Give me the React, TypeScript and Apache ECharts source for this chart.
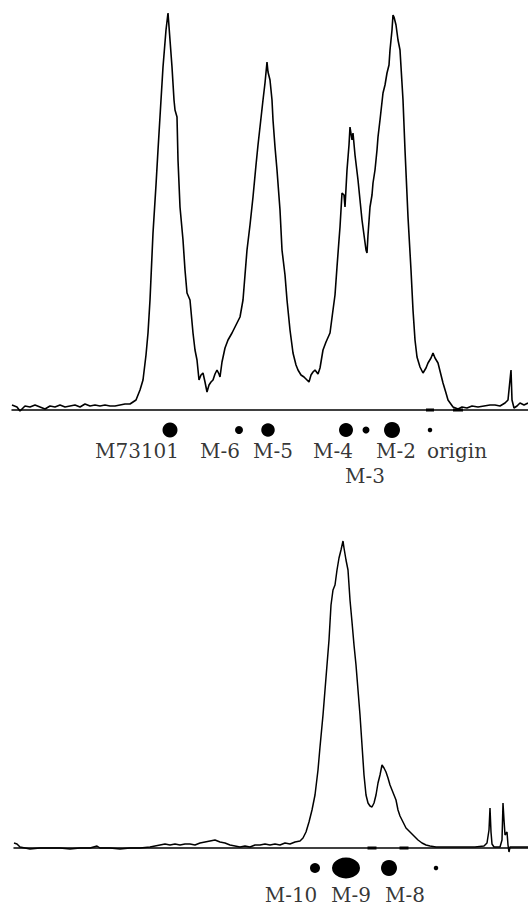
import React, { useEffect, useRef } from "react";
import * as echarts from "echarts";

// ---- Upper densitogram (position along plate, signal height above baseline)
const topPos = [12,17,20,25,30,35,40,45,50,55,60,65,70,75,80,85,90,95,100,105,110,115,120,125,130,133,
136,140,143,146,148,150,153,156,158,161,163,166,168,170,172,174,175,177,178,180,183,185,187,190,193,195,197,199,201,203,205,207,209,211,213,215,217,219,220,222,225,228,232,236,240,243,245,247,250,253,256,258,260,263,265,267,268,270,272,273,275,277,280,282,285,287,290,293,296,298,301,304,307,309,311,313,315,318,320,323,326,330,333,335,337,339,340,342,344,345,347,349,350,352,353,355,358,360,362,364,366,367,368,370,372,373,375,377,378,380,383,385,387,389,390,392,393,394,396,398,400,403,405,408,411,413,415,417,420,423,426,428,431,433,435,438,441,443,446,448,453,458,462,467,472,478,484,490,495,500,505,508,510,511,512,514,517,520,524,528];
const topSignal = [5,3,-1,4,3,5,3,1,4,3,5,3,4,5,3,6,4,5,4,5,4,4,5,6,6,8,
10,20,30,55,77,110,177,225,260,310,343,380,397,370,343,310,300,293,250,203,170,140,117,110,77,60,50,30,35,37,28,18,25,28,30,36,40,36,33,48,62,70,77,85,93,110,135,160,185,213,245,265,283,310,327,348,338,330,310,290,263,240,200,160,135,110,80,57,45,40,35,33,30,28,35,38,40,36,42,60,68,77,100,115,143,170,183,217,215,203,240,265,283,270,277,255,230,210,190,175,160,157,175,203,215,227,240,260,273,290,317,325,337,345,360,380,395,393,385,370,360,310,260,193,140,100,70,53,43,37,42,47,52,57,52,47,35,27,17,10,3,1,3,2,4,3,4,5,5,4,7,10,30,40,10,2,4,7,5,7];

// ---- Lower densitogram
const botPos = [14,17,20,25,30,40,50,60,70,80,90,97,100,110,120,130,140,150,155,160,165,170,175,180,185,190,195,200,205,210,215,220,225,230,235,240,245,250,255,260,265,270,275,280,285,290,295,300,303,306,309,312,315,318,320,323,325,327,329,331,333,335,337,339,341,343,344,346,348,350,352,354,356,358,360,362,364,366,368,370,372,374,376,378,380,382,384,386,388,390,392,394,396,398,400,403,406,410,414,418,422,426,430,436,445,460,475,484,487,489,490,491,492,494,500,502,503,504,505,507,508,509,510,515,528];
const botSignal = [5,4,1,0,-1,0,0,0,-1,0,0,2,0,0,-1,0,0,1,2,3,4,3,4,3,4,4,3,5,6,7,8,6,5,3,2,1,2,1,3,3,4,3,4,3,5,4,6,7,10,16,26,38,53,78,101,133,158,183,208,243,258,263,278,290,298,307,300,288,278,248,226,203,183,158,133,103,73,53,45,42,41,45,53,65,73,83,80,76,70,63,58,53,48,38,32,26,20,16,12,8,5,3,2,1,1,1,1,2,5,18,40,16,4,1,1,8,45,28,13,16,3,-4,1,1,1];

// ---- Spots (TLC) and their labels
const topSpotPos = [170, 239, 268, 346, 366, 392, 430];
const topSpotSize = [15, 8, 13.5, 14, 7, 16, 4.5];
const topLabels = ["M73101", "M-6", "M-5", "M-4", "M-2", "origin", "M-3"];
const topLabelPos = [137, 220, 273, 333, 396, 457, 365];
const topLabelRow = [0, 0, 0, 0, 0, 0, 1];

const botSpotPos = [315, 346, 389, 436];
const botSpotW = [10, 28, 16, 4.5];
const botSpotH = [10, 21, 16, 4.5];
const botLabels = ["M-10", "M-9", "M-8"];
const botLabelPos = [291, 351, 405];

// short thick marks sitting on the baselines
const topMarkPos = [430, 458];
const topMarkW = [8, 10];
const botMarkPos = [372, 404];
const botMarkW = [9, 9];

const INK = "#000";
const FONT = "'DejaVu Serif', 'Liberation Serif', serif";

export default function App() {
  const ref = useRef<HTMLDivElement>(null);
  useEffect(() => {
    document.body.style.margin = "0";
    const chart = echarts.init(ref.current!, null, { renderer: "svg" });
    const hiddenY = (gi: number, min: number, max: number) => ({
      type: "value", gridIndex: gi, min, max, show: false,
    });
    const xAx = (gi: number, min: number) => ({
      type: "value", gridIndex: gi, min, max: 528,
      axisLine: { show: true, onZero: true, lineStyle: { color: INK, width: 1.5 } },
      axisTick: { show: false }, axisLabel: { show: false }, splitLine: { show: false },
    });
    const labelSeries = (xi: number, data: any[]) => ({
      type: "scatter", xAxisIndex: xi, yAxisIndex: xi, silent: true,
      symbol: "circle", symbolSize: 1,
      itemStyle: { color: "rgba(0,0,0,0)" },
      label: {
        show: true, position: "inside", formatter: "{b}",
        color: INK, fontFamily: FONT, fontSize: 20,
      },
      data,
    });
    const spotStyle = { color: INK, opacity: 1 };
    const option: any = {
      animation: false,
      backgroundColor: "#fff",
      grid: [
        { left: 12, right: 0, top: 10, height: 480 },
        { left: 14, right: 0, top: 538, height: 365 },
      ],
      xAxis: [xAx(0, 12), xAx(1, 14)],
      yAxis: [hiddenY(0, -80, 400), hiddenY(1, -55, 310)],
      series: [
        {
          type: "line", xAxisIndex: 0, yAxisIndex: 0, symbol: "none",
          lineStyle: { color: INK, width: 1.6 },
          data: topPos.map((x, i) => [x, topSignal[i]]),
        },
        {
          type: "line", xAxisIndex: 1, yAxisIndex: 1, symbol: "none",
          lineStyle: { color: INK, width: 1.5 },
          data: botPos.map((x, i) => [x, botSignal[i]]),
        },
        {
          type: "scatter", xAxisIndex: 0, yAxisIndex: 0, silent: true,
          itemStyle: spotStyle,
          data: topSpotPos.map((x, i) => ({ value: [x, -20], symbolSize: topSpotSize[i] })),
        },
        {
          type: "scatter", xAxisIndex: 1, yAxisIndex: 1, silent: true,
          itemStyle: spotStyle,
          data: botSpotPos.map((x, i) => ({ value: [x, -20], symbolSize: [botSpotW[i], botSpotH[i]] })),
        },
        {
          type: "scatter", xAxisIndex: 0, yAxisIndex: 0, silent: true, symbol: "rect",
          itemStyle: spotStyle,
          data: topMarkPos.map((x, i) => ({ value: [x, 0], symbolSize: [topMarkW[i], 3] })),
        },
        {
          type: "scatter", xAxisIndex: 1, yAxisIndex: 1, silent: true, symbol: "rect",
          itemStyle: spotStyle,
          data: botMarkPos.map((x, i) => ({ value: [x, 0], symbolSize: [botMarkW[i], 3] })),
        },
        labelSeries(0, topLabels.map((n, i) => ({
          name: n, value: [topLabelPos[i], topLabelRow[i] === 0 ? -41 : -66],
        }))),
        labelSeries(1, botLabels.map((n, i) => ({
          name: n, value: [botLabelPos[i], -47],
        }))),
      ],
    };
    chart.setOption(option);
    return () => chart.dispose();
  }, []);
  return (
    <div
      ref={ref}
      style={{ position: "absolute", left: 0, top: 0, width: 528, height: 907, background: "#fff" }}
    />
  );
}
